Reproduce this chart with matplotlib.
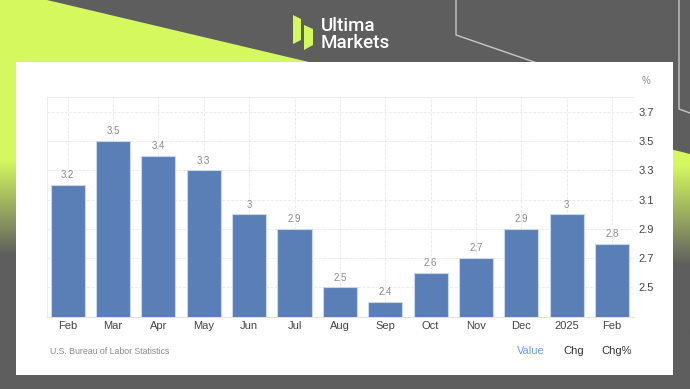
import numpy as np
import matplotlib
matplotlib.use("Agg")
import matplotlib.pyplot as plt
from matplotlib.patches import Polygon, Rectangle
from matplotlib.colors import to_rgb

categories = ["Feb", "Mar", "Apr", "May", "Jun", "Jul", "Aug", "Sep", "Oct", "Nov", "Dec", "2025", "Feb"]
values = [3.2, 3.5, 3.4, 3.3, 3.0, 2.9, 2.5, 2.4, 2.6, 2.7, 2.9, 3.0, 2.8]
value_labels = ["3.2", "3.5", "3.4", "3.3", "3", "2.9", "2.5", "2.4", "2.6", "2.7", "2.9", "3", "2.8"]
y_ticks = [2.5, 2.7, 2.9, 3.1, 3.3, 3.5, 3.7]

plt.rcParams['font.family'] = ['Liberation Sans', 'DejaVu Sans']

W, H = 690, 389
fig = plt.figure(figsize=(W / 100, H / 100), dpi=100)

GREY = '#5e5e5e'
GREEN = '#d5f85f'

# ---- background layer in pixel coordinates ----
bg = fig.add_axes([0, 0, 1, 1], zorder=-10)
bg.set_xlim(0, W)
bg.set_ylim(H, 0)
bg.axis('off')
bg.add_patch(Rectangle((0, 0), W, H, facecolor=GREY, edgecolor='none'))
# top-left green wedge
bg.add_patch(Polygon([(0, 0), (47, 0), (330, 67), (0, 67)], closed=True,
                     facecolor=GREEN, edgecolor='none'))

def vgrad(y0, y1, ya, yb, n=400):
    ys = np.linspace(y0, y1, n)
    t = np.clip((ys - ya) / (yb - ya), 0, 1)[:, None]
    g = np.array(to_rgb(GREEN))
    k = np.array(to_rgb(GREY))
    col = (1 - t) * g + t * k
    return np.repeat(col[:, None, :], 2, axis=1)

# left strip gradient
bg.imshow(vgrad(60, 389, 160, 255), extent=(0, 17, 389, 60), aspect='auto', zorder=1)
# right strip gradient clipped by slanted top edge
im = bg.imshow(vgrad(140, 389, 165, 265), extent=(670, 690, 389, 140), aspect='auto', zorder=1)
clip = Polygon([(670, 149), (690, 154), (690, 389), (670, 389)], closed=True,
               facecolor='none', edgecolor='none', transform=bg.transData)
bg.add_patch(clip)
im.set_clip_path(clip)

# decorative thin lines top-right
bg.plot([456, 456, 540], [0, 35, 64], color='#c8c8c8', lw=1.0, zorder=2)
bg.plot([679, 679, 690], [0, 109, 113], color='#c8c8c8', lw=1.0, zorder=2)

# white panel
bg.add_patch(Rectangle((16, 62), 657, 313, facecolor='white', edgecolor='none', zorder=3))

# logo
bg.add_patch(Polygon([(293, 15), (301, 19), (301, 40), (293, 44)], closed=True,
                     facecolor=GREEN, edgecolor='none', zorder=4))
bg.add_patch(Polygon([(304, 25), (313, 29), (313, 45), (304, 50)], closed=True,
                     facecolor=GREEN, edgecolor='none', zorder=4))
bg.text(321, 48, "Ultima\nMarkets", color='white', fontsize=13.5, family=['Roboto', 'DejaVu Sans'],
        fontweight='medium', va='baseline', ha='left', linespacing=0.95, zorder=4)

# footer texts
bg.text(50, 351, "U.S. Bureau of Labor Statistics", color='#8a8a8a', fontsize=6.3,
        va='center', ha='left', zorder=4)
bg.text(531, 351, "Value", color='#6d9eeb', fontsize=8, va='center', ha='center', zorder=4)
bg.text(574, 351, "Chg", color='#333333', fontsize=8, va='center', ha='center', zorder=4)
bg.text(617, 351, "Chg%", color='#333333', fontsize=8, va='center', ha='center', zorder=4)
bg.text(646, 81, "%", color='#8a8a8a', fontsize=7, va='center', ha='center', zorder=4)

# ---- chart ----
left, right = 46.7 / W, 634 / W
bottom, top = (H - 316.7) / H, (H - 97.3) / H
ax = fig.add_axes([left, bottom, right - left, top - bottom])
ax.set_facecolor('none')
x = np.arange(len(categories))
bars = ax.bar(x, values, width=0.75, color='#5a7fb7', edgecolor='#c9d6ea', linewidth=0.8, zorder=3)
for xi, v, lab in zip(x, values, value_labels):
    ax.annotate(lab, (xi, v), xytext=(0, 7), textcoords='offset points',
                ha='center', va='center', fontsize=7, color='#8a8a8a', zorder=4)

ax.set_xlim(-0.46, 12.48)
ax.set_ylim(2.3, 3.8)
ax.set_xticks(x)
ax.set_xticklabels(categories)
ax.set_yticks(y_ticks)
ax.set_yticklabels([f"{t:.1f}" for t in y_ticks])
ax.yaxis.tick_right()
ax.tick_params(axis='both', length=0, labelsize=8, labelcolor='#444444')
ax.tick_params(axis='x', pad=3)
ax.tick_params(axis='y', pad=3)
ax.grid(True, color='#ececec', lw=0.7, linestyle=(0, (3, 1.5)), zorder=0)
ax.axhline(3.8, color='#ececec', lw=0.7, zorder=0)
for s in ['top', 'right']:
    ax.spines[s].set_visible(False)
ax.spines['left'].set_color('#ececec')
ax.spines['left'].set_linewidth(0.7)
ax.spines['bottom'].set_color('#e2e2e2')
ax.spines['bottom'].set_linewidth(0.8)

fig.savefig('out.png', dpi=100)
